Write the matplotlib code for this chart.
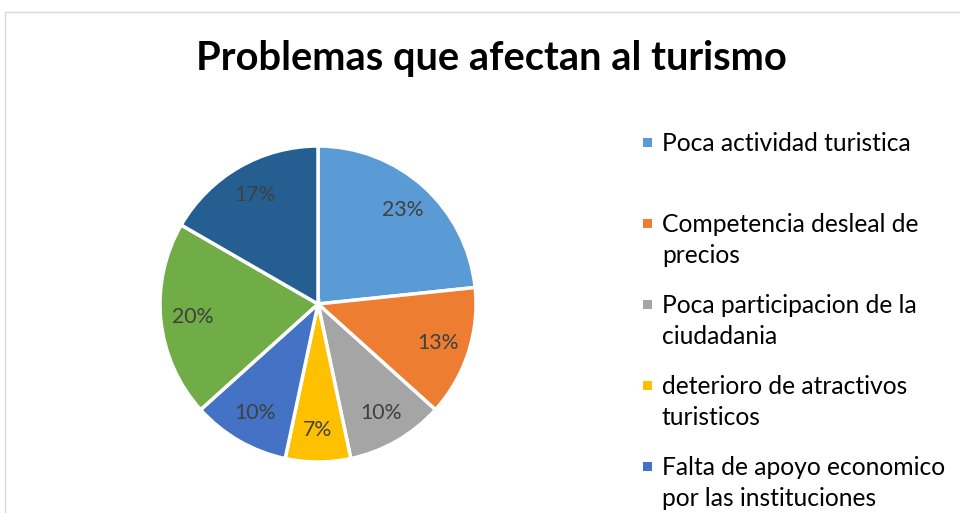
import matplotlib
matplotlib.use("Agg")
import matplotlib.pyplot as plt
from matplotlib.patches import Rectangle

plt.rcParams['font.family'] = ['Lato', 'DejaVu Sans']

title = "Problemas que afectan al turismo"
# only the first five legend entries are visible in the chart
labels = [
    "Poca actividad turistica",
    "Competencia desleal de\nprecios",
    "Poca participacion de la\nciudadania",
    "deterioro de atractivos\nturisticos",
    "Falta de apoyo economico\npor las instituciones",
]
counts = [7, 4, 3, 2, 3, 6, 5]
colors = ["#5B9BD5", "#ED7D31", "#A5A5A5", "#FFC000", "#4472C4", "#70AD47", "#255E91"]

W, H = 960, 513
fig = plt.figure(figsize=(W / 100, H / 100), dpi=100)

# chart area border (top and left visible, rest cut off)
fig.patches.append(Rectangle((5 / W, -0.1), 1.2, (H - 12) / H + 0.1,
                             transform=fig.transFigure, fill=False,
                             edgecolor="#d9d9d9", linewidth=1))

fig.text(491 / W, 1 - 59 / H, title, ha="center", va="center",
         fontsize=28.7, fontweight="bold", color="black")

cx, cy, r = 318, H - 304, 158
ax = fig.add_axes([(cx - r) / W, (cy - r) / H, 2 * r / W, 2 * r / H])
wedges, texts, autotexts = ax.pie(
    counts, colors=colors, startangle=90, counterclock=False,
    autopct='%1.0f%%', pctdistance=0.8,
    wedgeprops=dict(edgecolor="white", linewidth=2.5),
    textprops=dict(color="#404040", fontsize=15.3))
for w in wedges:
    w.set_clip_on(False)
ax.set_xlim(-1, 1)
ax.set_ylim(-1, 1)
ax.axis("off")

# legend drawn by hand so every entry takes the same slot height
y0, step = 142, 81
for i, (lab, col) in enumerate(zip(labels, colors)):
    y = y0 + i * step
    fig.patches.append(Rectangle((643 / W, 1 - (y + 5) / H), 9 / W, 9 / H,
                                 transform=fig.transFigure, facecolor=col,
                                 edgecolor="none"))
    fig.text(662 / W, 1 - (y - 10) / H, lab, ha="left", va="top",
             fontsize=17.7, color="black", linespacing=1.42)

fig.savefig("out.png", dpi=100)
